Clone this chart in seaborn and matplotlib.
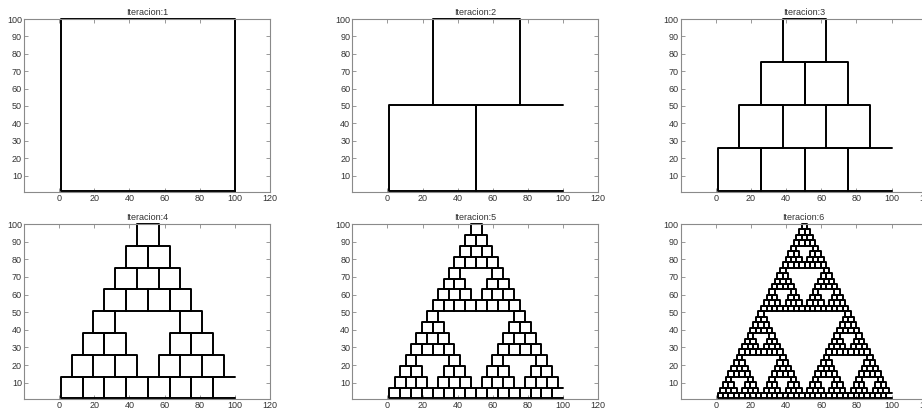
import matplotlib
matplotlib.use("Agg")
import matplotlib.pyplot as plt
import seaborn as sns
import pandas as pd

# Iteraciones que se dibujan
ITERACIONES = [1, 2, 3, 4, 5, 6]
TITULOS = ["Iteracion:%d" % i for i in ITERACIONES]
# Cuadrado inicial
ORIGEN_X = 1.0
ORIGEN_Y = 1.0
LADO = 99.0
# Posicion de los 3 sub-cuadrados (fraccion del lado)
SUB_X = [0.0, 0.5, 0.25]
SUB_Y = [0.0, 0.0, 0.5]
# Ejes
XTICKS = [0, 20, 40, 60, 80, 100, 120]
YTICKS = [10, 20, 30, 40, 50, 60, 70, 80, 90, 100]
XLIM = (-20, 120)
YLIM = (0.7, 100)


def cuadrados(n):
    cs = [(ORIGEN_X, ORIGEN_Y, LADO)]
    for _ in range(n - 1):
        cs = [(x + fx * s, y + fy * s, s / 2)
              for (x, y, s) in cs for fx, fy in zip(SUB_X, SUB_Y)]
    return cs


def trazos(n):
    filas = []
    for k, (x, y, s) in enumerate(cuadrados(n)):
        pts = [(x + s, y), (x, y), (x, y + s), (x + s, y + s)]
        # el lado derecho en x=100 no aparece a partir de la iteracion 2
        if n == 1 or x + s < ORIGEN_X + LADO - 1e-6:
            pts.append((x + s, y))
        for px, py in pts:
            filas.append({"cuad": k, "x": px, "y": py})
    return pd.DataFrame(filas)


sns.set_style("white")
plt.rcParams["font.family"] = ["Liberation Sans", "DejaVu Sans"]

fig = plt.figure(figsize=(9.22, 4.09), dpi=100)
lefts = [0.026, 0.3821, 0.7383]
bottoms = [0.5313, 0.0244]
ancho = 0.2668
altos = [0.4222, 0.4279]

for i, n in enumerate(ITERACIONES):
    fila, col = divmod(i, 3)
    ax = fig.add_axes([lefts[col], bottoms[fila], ancho, altos[fila]])
    df = trazos(n)
    sns.lineplot(data=df, x="x", y="y", units="cuad", estimator=None,
                 sort=False, color="black", linewidth=1.4, legend=False,
                 ax=ax, clip_on=False)
    ax.set_xlim(XLIM)
    ax.set_ylim(YLIM)
    ax.set_xticks(XTICKS)
    ax.set_yticks(YTICKS)
    ax.set_xlabel("")
    ax.set_ylabel("")
    ax.set_title(TITULOS[i], fontsize=6.5, pad=3, color="#333333")
    ax.tick_params(direction="in", length=3, width=0.6, top=True, right=True,
                   bottom=True, left=True, colors="#888888",
                   labelcolor="#333333", labelsize=6.5, pad=1.5)
    for sp in ax.spines.values():
        sp.set_color("#8a8a8a")
        sp.set_linewidth(0.8)

fig.savefig("out.png", dpi=100)
